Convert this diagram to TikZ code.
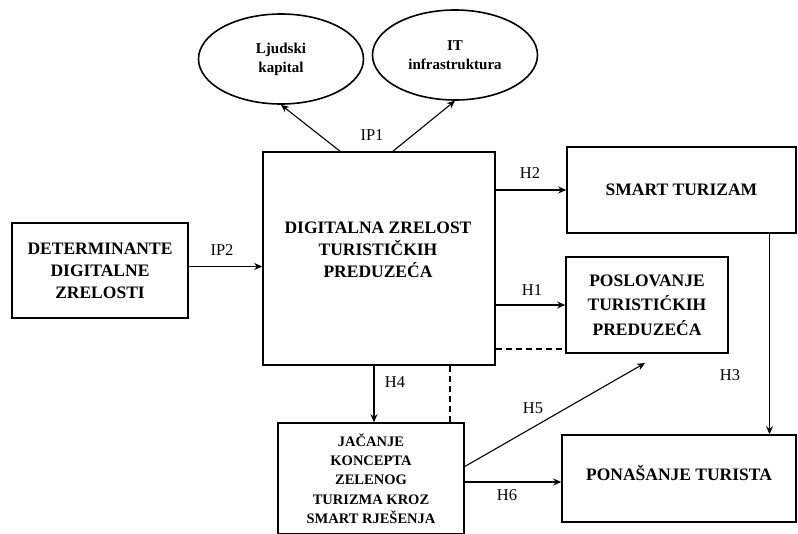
\documentclass[tikz,border=0pt]{standalone}
\usepackage{fontspec}
\setmainfont{Liberation Serif}
\usetikzlibrary{arrows.meta,shapes.geometric}
\begin{document}
\begin{tikzpicture}[x=1pt,y=-1pt,
  boxfont/.style={font=\bfseries\fontsize{17.5}{22}\selectfont},
  box/.style={draw,line width=1.6pt,rectangle,align=center,inner sep=0pt,boxfont},
  txt/.style={align=center,inner sep=0pt,boxfont},
  oval/.style={draw,line width=1.6pt,ellipse,inner sep=0pt,align=center,font=\bfseries\fontsize{15}{19}\selectfont},
  arr/.style={line width=1.1pt,-{Stealth[length=8pt,width=7pt]}},
  dsh/.style={line width=1.1pt,dash pattern=on 6pt off 4pt},
  lbl/.style={font=\fontsize{16.5}{18}\selectfont,inner sep=0pt}]
\useasboundingbox (0,0) rectangle (798,533);
\clip (0,0) rectangle (798,533);
\fill[white] (0,0) rectangle (798,533);
% nodes
\node[oval,minimum width=165pt,minimum height=90pt] (lk) at (281,59) {Ljudski\\kapital};
\node[oval,minimum width=165pt,minimum height=90pt] (it) at (455,55) {IT\\infrastruktura};
\node[box,minimum width=232pt,minimum height=213pt] (main) at (379,258.5) {};
\node[txt] (maintxt) at (378,250) {DIGITALNA ZRELOST\\TURISTIČKIH\\PREDUZEĆA};
\node[box,minimum width=176pt,minimum height=95pt] (det) at (100,270.5) {DETERMINANTE\\DIGITALNE\\ZRELOSTI};
\node[box,minimum width=229pt,minimum height=86pt] (smart) at (681.5,190) {SMART TURIZAM};
\node[box,minimum width=162pt,minimum height=96pt,font=\bfseries\fontsize{17.5}{24.5}\selectfont] (posl) at (647,305) {POSLOVANJE\\TURISTIĆKIH\\PREDUZEĆA};
\node[box,minimum width=234pt,minimum height=87pt] (pon) at (679,478.5) {};
\node[txt] (pontxt) at (679,473) {PONAŠANJE TURISTA};
\node[box,minimum width=186pt,minimum height=111pt,font=\bfseries\fontsize{14.5}{19.3}\selectfont] (jac) at (371,478.5) {JAČANJE\\KONCEPTA\\ZELENOG\\TURIZMA KROZ\\SMART RJEŠENJA};
\coordinate (h5end) at (645,363);
% connectors
\draw[arr] ([xshift=-39pt]main.north) -- (lk.south);
\draw[arr] ([xshift=14pt]main.north) -- (it.south);
\draw[arr] ([yshift=4pt]det.east) -- ([yshift=4pt]det.east -| main.west);
\draw[arr] (main.east |- smart.west) -- (smart.west);
\draw[arr] (main.east |- posl.west) -- (posl.west);
\draw[dsh] ([yshift=-44pt]posl.west -| main.east) -- ([yshift=-44pt]posl.west);
\draw[arr] ([xshift=88pt]smart.south) -- ([xshift=88pt]smart.south |- pon.north);
\draw[arr] ([xshift=3pt]jac.north |- main.south) -- ([xshift=3pt]jac.north);
\draw[dsh] ([xshift=71pt]main.south) -- ([xshift=71pt]main.south |- jac.north);
\draw[arr] ([yshift=12pt]jac.east) -- (h5end);
\draw[arr] ([yshift=-3.5pt]jac.east) -- ([yshift=-3.5pt]jac.east -| pon.west);
% labels
\node[lbl] (ip1) at (372,135) {IP1};
\node[lbl] (ip2) at (222,250) {IP2};
\node[lbl] (h2) at (530,173) {H2};
\node[lbl] (h1) at (532,290) {H1};
\node[lbl] (h3) at (730,375) {H3};
\node[lbl] (h4) at (395,382) {H4};
\node[lbl] (h5) at (533,408) {H5};
\node[lbl] (h6) at (507,495) {H6};
\end{tikzpicture}
\end{document}
